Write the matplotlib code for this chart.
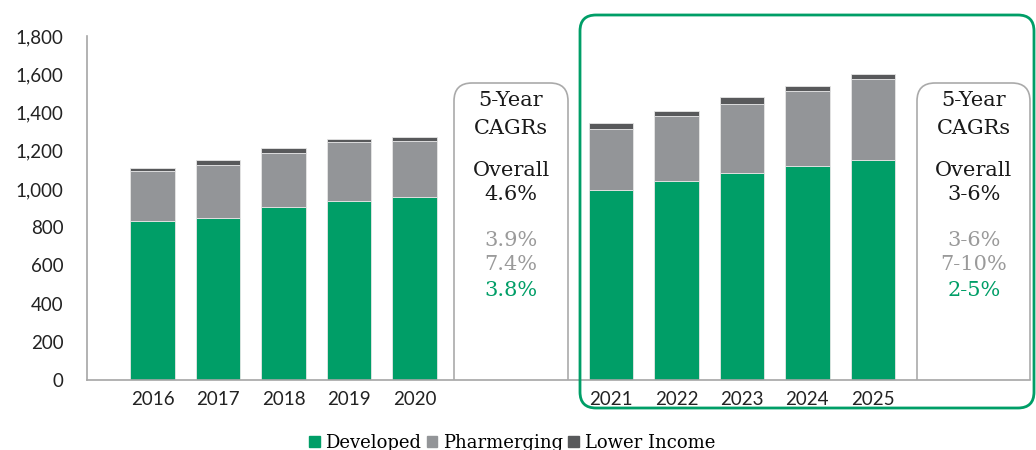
import matplotlib
matplotlib.use("Agg")
import matplotlib.pyplot as plt
from matplotlib.patches import FancyBboxPatch, Patch
from matplotlib.transforms import IdentityTransform, Bbox

years = ["2016", "2017", "2018", "2019", "2020", "2021", "2022", "2023", "2024", "2025"]
developed = [832, 848, 905, 937, 958, 994, 1041, 1083, 1120, 1151]
pharmerging = [262, 277, 283, 310, 292, 319, 340, 361, 392, 424]
lower_income = [15, 26, 26, 14, 20, 32, 27, 37, 26, 26]
x_pos = [0, 1, 2, 3, 4, 7, 8, 9, 10, 11]
yticks = [0, 200, 400, 600, 800, 1000, 1200, 1400, 1600, 1800]

box1_lines = ["5-Year", "CAGRs", "Overall", "4.6%", "3.9%", "7.4%", "3.8%"]
box2_lines = ["5-Year", "CAGRs", "Overall", "3-6%", "3-6%", "7-10%", "2-5%"]

GREEN = "#009E67"
GRAY = "#939598"
DARK = "#58595B"

fig = plt.figure(figsize=(10.36, 4.5), dpi=100)
ax = fig.add_axes([87/1036, 1-380/450, (1030-87)/1036, (380-36)/450])

bottom2 = [d + p for d, p in zip(developed, pharmerging)]
w = 0.68
ax.bar(x_pos, developed, width=w, color=GREEN, edgecolor="#e6e6e6", linewidth=0.6, zorder=3)
ax.bar(x_pos, pharmerging, width=w, bottom=developed, color=GRAY, edgecolor="#e6e6e6", linewidth=0.6, zorder=3)
ax.bar(x_pos, lower_income, width=w, bottom=bottom2, color=DARK, edgecolor="#e6e6e6", linewidth=0.6, zorder=3)

ax.set_xlim(-1, 13.4)
ax.set_ylim(0, 1800)
ax.set_yticks(yticks)
ax.set_yticklabels([f"{v:,}" for v in yticks], fontsize=13.5, family="Lato", color="#222222")
ax.set_xticks(x_pos)
ax.set_xticklabels(years, fontsize=13.5, family="Lato", color="#222222")
ax.tick_params(axis="both", length=0)
ax.tick_params(axis="y", pad=17)
ax.tick_params(axis="x", pad=8)
for s in ["top", "right"]:
    ax.spines[s].set_visible(False)
for s in ["left", "bottom"]:
    ax.spines[s].set_color("#A6A6A6")
    ax.spines[s].set_linewidth(1.2)
ax.spines["bottom"].set_zorder(6)

# pixel-coordinate helpers (origin top-left)
H = 450
def add_rbox(x0, y0, x1, y1, ec, lw, r, clip_bottom=None):
    p = FancyBboxPatch((x0, H - y1), x1 - x0, y1 - y0,
                       boxstyle=f"round,pad=0,rounding_size={r}",
                       transform=IdentityTransform(), facecolor="none",
                       edgecolor=ec, linewidth=lw, zorder=5)
    if clip_bottom is not None:
        p.set_clip_box(Bbox([[0, H - clip_bottom], [1036, H]]))
    fig.add_artist(p)

add_rbox(580, 15, 1034, 408, GREEN, 2.0, 16)
add_rbox(454, 83, 568, 420, "#AAAAAA", 1.2, 18, clip_bottom=380)
add_rbox(917, 83, 1030, 420, "#AAAAAA", 1.2, 18, clip_bottom=380)

def box_text(cx, lines):
    ys = [101, 129, 170, 195, 240, 265, 291]
    cols = ["#1a1a1a", "#1a1a1a", "#1a1a1a", "#1a1a1a", "#9a9a9a", "#9a9a9a", GREEN]
    for t, y, c in zip(lines, ys, cols):
        fig.text(cx / 1036, 1 - y / H, t, ha="center", va="center",
                 fontsize=15, family="DejaVu Serif", color=c)

box_text(511, box1_lines)
box_text(974, box2_lines)

handles = [Patch(color=GREEN, label="Developed"),
           Patch(color=GRAY, label="Pharmerging"),
           Patch(color=DARK, label="Lower Income")]
fig.legend(handles=handles, loc="center", bbox_to_anchor=(512/1036, 1 - 443/H),
           ncol=3, frameon=False, handlelength=0.6, handleheight=0.6,
           handletextpad=0.3, columnspacing=0.3, prop={"family": "DejaVu Serif", "size": 13})

fig.savefig("out.png", dpi=100)
